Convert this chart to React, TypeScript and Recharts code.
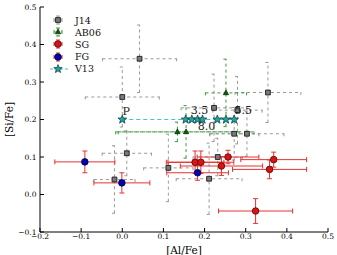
import {
  ScatterChart,
  Scatter,
  XAxis,
  YAxis,
  ErrorBar,
  Legend,
  Label,
} from 'recharts'

// J14
const j14Al = [0.042, 0.0, 0.011, -0.019, 0.112, 0.232, 0.211, 0.272, 0.303, 0.223, 0.354, 0.28]
const j14Si = [0.362, 0.26, 0.11, 0.04, 0.071, 0.1, 0.042, 0.162, 0.162, 0.231, 0.272, 0.225]
const j14AlErr = [0.09, 0.09, 0.06, 0.05, 0.06, 0.06, 0.08, 0.06, 0.09, 0.08, 0.08, 0.06]
const j14SiErr = [0.09, 0.08, 0.06, 0.09, 0.09, 0.05, 0.095, 0.07, 0.06, 0.09, 0.08, 0.09]

// AB06
const ab06Al = [0.252, 0.134, 0.155]
const ab06Si = [0.271, 0.167, 0.167]
const ab06AlErr = [0.05, 0.15, 0.165]
const ab06SiErr = [0.09, 0.026, 0.07]

// SG
const sgAl = [0.177, 0.191, 0.257, 0.241, 0.368, 0.358, 0.324]
const sgSi = [0.086, 0.086, 0.1, 0.076, 0.093, 0.067, -0.044]
const sgAlErr = [0.07, 0.08, 0.075, 0.1, 0.08, 0.09, 0.09]
const sgSiErr = [0.03, 0.03, 0.018, 0.025, 0.02, 0.025, 0.033]

// FG
const fgAl = [-0.091, -0.001, 0.183]
const fgSi = [0.087, 0.031, 0.058]
const fgAlErr = [0.073, 0.068, 0.075]
const fgSiErr = [0.029, 0.027, 0.02]

// V13
const v13Al = [0.0, 0.154, 0.169, 0.183, 0.195, 0.231, 0.252, 0.272]
const v13Si = [0.2, 0.2, 0.2, 0.2, 0.2, 0.2, 0.2, 0.2]
const v13Notes = ['P', '', '', '3.5', '8.0', '', '', '5.5']

const xTicks = [-0.2, -0.1, 0.0, 0.1, 0.2, 0.3, 0.4, 0.5]
const yTicks = [-0.1, 0.0, 0.1, 0.2, 0.3, 0.4, 0.5]

const serif = '"DejaVu Serif", serif'

const toPoints = (al: number[], si: number[], alErr?: number[], siErr?: number[]) =>
  al.map((a, i) => ({
    al: a,
    si: si[i],
    alErr: alErr ? alErr[i] : 0,
    siErr: siErr ? siErr[i] : 0,
  }))

const j14 = toPoints(j14Al, j14Si, j14AlErr, j14SiErr)
const ab06 = toPoints(ab06Al, ab06Si, ab06AlErr, ab06SiErr)
const sg = toPoints(sgAl, sgSi, sgAlErr, sgSiErr)
const fg = toPoints(fgAl, fgSi, fgAlErr, fgSiErr)
const v13 = v13Al.map((a, i) => ({ al: a, si: v13Si[i], note: v13Notes[i] }))

// where each annotation sits relative to its star
const noteOffset: Record<string, [number, number]> = {
  P: [4, -8],
  '3.5': [2, -9],
  '8.0': [4, 7],
  '5.5': [9, -9],
}

const fmt = (v: number) => (v < 0 ? '\u2212' : '') + Math.abs(v).toFixed(1)

function squarePath(cx: number, cy: number, s: number) {
  return `M${cx - s},${cy - s}h${2 * s}v${2 * s}h${-2 * s}Z`
}

function trianglePath(cx: number, cy: number, s: number) {
  return `M${cx},${cy - s * 1.15}L${cx + s},${cy + s * 0.7}L${cx - s},${cy + s * 0.7}Z`
}

function starPath(cx: number, cy: number, r: number) {
  const pts = []
  for (let i = 0; i < 10; i++) {
    const rr = i % 2 === 0 ? r : r * 0.42
    const a = -Math.PI / 2 + (i * Math.PI) / 5
    pts.push(`${(cx + rr * Math.cos(a)).toFixed(2)},${(cy + rr * Math.sin(a)).toFixed(2)}`)
  }
  return 'M' + pts.join('L') + 'Z'
}

const Square = (p: any) => (
  <path d={squarePath(p.cx, p.cy, 2.4)} fill="#7a7a7a" stroke="#1a1a1a" strokeWidth={0.9} />
)
const Triangle = (p: any) => (
  <path d={trianglePath(p.cx, p.cy, 2.6)} fill="#0b5e0b" stroke="#022002" strokeWidth={0.7} />
)
const RedDot = (p: any) => (
  <circle cx={p.cx} cy={p.cy} r={3.3} fill="#d51515" stroke="#5a0000" strokeWidth={0.8} />
)
const BlueDot = (p: any) => (
  <circle cx={p.cx} cy={p.cy} r={3.3} fill="#0000b8" stroke="#00003a" strokeWidth={0.8} />
)
const Star = (p: any) => {
  const note = p.payload && p.payload.note
  const off = note ? noteOffset[note] : null
  return (
    <g>
      <path d={starPath(p.cx, p.cy, 4.6)} fill="#1fa3a3" stroke="#083434" strokeWidth={0.7} />
      {note && off && (
        <text
          x={p.cx + off[0]}
          y={p.cy + off[1]}
          textAnchor="middle"
          dominantBaseline="central"
          fontFamily={serif}
          fontSize={11}
          fill="#222"
        >
          {note}
        </text>
      )}
    </g>
  )
}

const legendRows = [
  { name: 'J14', kind: 'square', bar: '#999', dash: '2 1.5' },
  { name: 'AB06', kind: 'triangle', bar: '#3a9a3a', dash: '2 1.5' },
  { name: 'SG', kind: 'red', bar: '#e83030', dash: '' },
  { name: 'FG', kind: 'blue', bar: '#e83030', dash: '' },
  { name: 'V13', kind: 'star', bar: '#40c4c4', dash: '3 2' },
]

function LegendBox() {
  return (
    <div style={{ fontFamily: serif, fontSize: 9.5, color: '#111' }}>
      {legendRows.map((r) => (
        <div key={r.name} style={{ display: 'flex', alignItems: 'center', height: 12.2 }}>
          <svg width={22} height={12} style={{ display: 'block' }}>
            {r.kind === 'star' ? (
              <>
                <line x1={3} y1={6} x2={21} y2={6} stroke={r.bar} strokeDasharray={r.dash} />
                <path d={starPath(11, 6, 4.4)} fill="#1fa3a3" stroke="#083434" strokeWidth={0.7} />
              </>
            ) : (
              <>
                <line x1={7} y1={6} x2={15} y2={6} stroke={r.bar} strokeDasharray={r.dash} />
                <line x1={7} y1={4} x2={7} y2={8} stroke={r.bar} />
                <line x1={15} y1={4} x2={15} y2={8} stroke={r.bar} />
                <line x1={11} y1={2} x2={11} y2={10} stroke={r.bar} strokeDasharray={r.dash} />
                <line x1={9} y1={2} x2={13} y2={2} stroke={r.bar} />
                <line x1={9} y1={10} x2={13} y2={10} stroke={r.bar} />
                {r.kind === 'square' && <Square cx={11} cy={6} />}
                {r.kind === 'triangle' && <Triangle cx={11} cy={6} />}
                {r.kind === 'red' && <RedDot cx={11} cy={6} />}
                {r.kind === 'blue' && <BlueDot cx={11} cy={6} />}
              </>
            )}
          </svg>
          <span style={{ marginLeft: 6 }}>{r.name}</span>
        </div>
      ))}
    </div>
  )
}

const tickStyle = { fontFamily: serif, fontSize: 7.5, fill: '#000' }

export default function App() {
  return (
    <div style={{ position: 'absolute', left: 0, top: 0, width: 337, height: 255, background: '#fff' }}>
      <ScatterChart width={337} height={255} margin={{ top: 7, right: 9, bottom: 0, left: 0 }}>
        <XAxis
          type="number"
          dataKey="al"
          domain={[-0.2, 0.5]}
          ticks={xTicks}
          tickFormatter={fmt}
          allowDataOverflow
          height={23}
          tickSize={-4}
          tickMargin={6}
          tick={tickStyle}
          axisLine={{ stroke: '#000' }}
          tickLine={{ stroke: '#000' }}
        >
          <Label
            content={() => (
              <text x={184} y={250} textAnchor="middle" dominantBaseline="central" fontFamily={serif} fontSize={10.5} fill="#000">
                [Al/Fe]
              </text>
            )}
          />
        </XAxis>
        <YAxis
          type="number"
          dataKey="si"
          domain={[-0.1, 0.5]}
          ticks={yTicks}
          tickFormatter={fmt}
          allowDataOverflow
          width={40}
          tickSize={-4}
          tickMargin={7.5}
          tick={tickStyle}
          axisLine={{ stroke: '#000' }}
          tickLine={{ stroke: '#000' }}
        >
          <Label
            content={() => (
              <text
                x={9}
                y={119.5}
                textAnchor="middle"
                dominantBaseline="central"
                transform="rotate(-90, 9, 119.5)"
                fontFamily={serif}
                fontSize={10.5}
                fill="#000"
              >
                [Si/Fe]
              </text>
            )}
          />
        </YAxis>
        <XAxis
          xAxisId="top"
          orientation="top"
          type="number"
          domain={[-0.2, 0.5]}
          ticks={xTicks}
          height={0}
          tickSize={-4}
          tick={false}
          axisLine={{ stroke: '#000' }}
          tickLine={{ stroke: '#000' }}
        />
        <YAxis
          yAxisId="right"
          orientation="right"
          type="number"
          domain={[-0.1, 0.5]}
          ticks={yTicks}
          width={0}
          tickSize={-4}
          tick={false}
          axisLine={{ stroke: '#000' }}
          tickLine={{ stroke: '#000' }}
        />
        <Legend
          layout="horizontal"
          verticalAlign="middle"
          align="center"
          wrapperStyle={{ top: 14, left: 47, width: 70, height: 62 }}
          content={() => <LegendBox />}
        />
        <Scatter name="J14" data={j14} shape={Square} isAnimationActive={false}>
          <ErrorBar dataKey="alErr" direction="x" width={2.5} stroke="#999" strokeWidth={1} strokeDasharray="3 3" />
          <ErrorBar dataKey="siErr" direction="y" width={2.5} stroke="#999" strokeWidth={1} strokeDasharray="3 3" />
        </Scatter>
        <Scatter name="AB06" data={ab06} shape={Triangle} isAnimationActive={false}>
          <ErrorBar dataKey="alErr" direction="x" width={2.5} stroke="#3a9a3a" strokeWidth={1} strokeDasharray="3 3" />
          <ErrorBar dataKey="siErr" direction="y" width={2.5} stroke="#3a9a3a" strokeWidth={1} strokeDasharray="3 3" />
        </Scatter>
        <Scatter name="SG" data={sg} shape={RedDot} isAnimationActive={false}>
          <ErrorBar dataKey="alErr" direction="x" width={2.5} stroke="#e83030" strokeWidth={1} />
          <ErrorBar dataKey="siErr" direction="y" width={2.5} stroke="#e83030" strokeWidth={1} />
        </Scatter>
        <Scatter name="FG" data={fg} shape={BlueDot} isAnimationActive={false}>
          <ErrorBar dataKey="alErr" direction="x" width={2.5} stroke="#e83030" strokeWidth={1} />
          <ErrorBar dataKey="siErr" direction="y" width={2.5} stroke="#e83030" strokeWidth={1} />
        </Scatter>
        <Scatter
          name="V13"
          data={v13}
          shape={Star}
          line={{ stroke: '#40c4c4', strokeWidth: 1, strokeDasharray: '4 3' }}
          isAnimationActive={false}
        />
      </ScatterChart>
    </div>
  )
}
